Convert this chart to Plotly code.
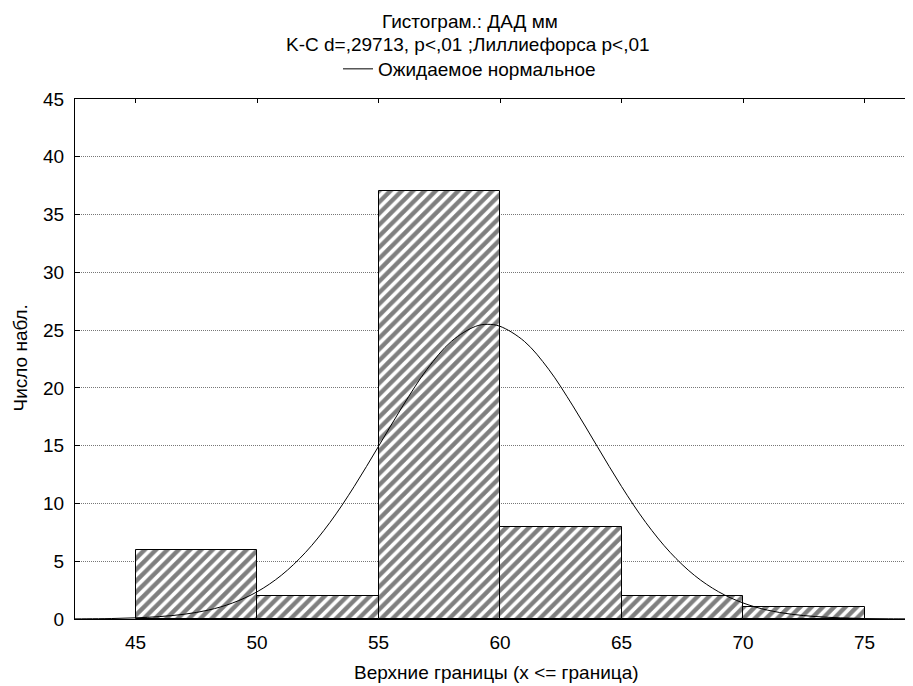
import plotly.graph_objects as go

# Histogram data: upper bin limits and counts
bin_upper = [50, 55, 60, 65, 70, 75]
bin_width = 5
counts = [6, 2, 37, 8, 2, 1]

# Expected normal curve
curve_x = [42.5, 43, 44, 45, 46, 47, 48, 49, 50, 51, 52, 53, 54, 55, 56, 57, 58, 59, 59.5,
           60, 61, 62, 63, 64, 65, 66, 67, 68, 69, 70, 71, 72, 73, 74, 75, 76, 77]
curve_y = [0.01, 0.02, 0.04, 0.10, 0.21, 0.41, 0.77, 1.39, 2.35, 3.78, 5.77, 8.35, 11.47,
           14.94, 18.44, 21.62, 24.03, 25.33, 25.5, 25.33, 24.03, 21.62, 18.44, 14.94, 11.47,
           8.35, 5.77, 3.78, 2.35, 1.39, 0.77, 0.41, 0.21, 0.10, 0.04, 0.02, 0.01]

x_ticks = [45, 50, 55, 60, 65, 70, 75]
y_ticks = [0, 5, 10, 15, 20, 25, 30, 35, 40, 45]

title_line1 = "Гистограм.: ДАД мм"
title_line2 = "K-C d=,29713, p<,01 ;Лиллиефорса p<,01"
legend_name = "Ожидаемое нормальное"
x_title = "Верхние границы (x <= граница)"
y_title = "Число набл."

FONT = "Arial, Liberation Sans, sans-serif"
FS = 19

# page has an 8px body margin; figure is offset by it
OFF = 8
W, H = 905, 678
PL, PT, PB = 75, 99, 619          # plot area in page pixels
ml, mt = PL - OFF, PT - OFF
mb = H + OFF - PB
plot_w = W - ml
plot_h = PB - PT


def px_x(p):
    return (p - PL) / plot_w


def px_y(p):
    return (PB - p) / plot_h


centers = [u - bin_width / 2 for u in bin_upper]

fig = go.Figure()
fig.add_trace(go.Bar(
    x=centers, y=counts, width=[bin_width] * len(counts),
    marker=dict(color="white", line=dict(color="black", width=1),
                pattern=dict(shape="/", size=8, solidity=0.55,
                             fgcolor="black", bgcolor="white")),
    showlegend=False, xaxis="x", yaxis="y",
))
fig.add_trace(go.Scatter(
    x=curve_x, y=curve_y, mode="lines", line=dict(color="black", width=1, shape="spline"),
    name=legend_name, showlegend=True, xaxis="x", yaxis="y",
))
# invisible trace to activate top axis
fig.add_trace(go.Scatter(x=[45], y=[0], mode="markers", marker=dict(opacity=0),
                         showlegend=False, hoverinfo="skip", xaxis="x2", yaxis="y"))

px_per_unit = (864.5 - 135.5) / 30
xr = [45 - (135.5 - PL) / px_per_unit, 45 + (W + OFF - 135.5) / px_per_unit]

fig.update_layout(
    width=W, height=H,
    margin=dict(l=ml, r=0, t=mt, b=mb, pad=0),
    paper_bgcolor="white", plot_bgcolor="white",
    font=dict(family=FONT, size=FS, color="black"),
    bargap=0,
    xaxis=dict(range=xr, tickvals=x_ticks, ticks="", showline=True, linecolor="black",
               linewidth=1, showgrid=False, zeroline=False, ticklabelstandoff=6,
               tickfont=dict(size=FS)),
    xaxis2=dict(range=xr, overlaying="x", side="top", tickvals=x_ticks, ticks="inside",
                ticklen=4, tickcolor="black", showticklabels=False, showline=True,
                linecolor="black", linewidth=1, showgrid=False, zeroline=False),
    yaxis=dict(range=[0, 45], tickvals=y_ticks, ticks="inside", ticklen=5, tickcolor="black",
               showline=True, linecolor="black", linewidth=1, zeroline=False,
               showgrid=True, gridcolor="#777777", griddash="1px,1px", gridwidth=1,
               ticklabelstandoff=6, tickfont=dict(size=FS)),
    legend=dict(orientation="h", xref="container", yref="container",
                x=(338 - OFF) / W, y=1 - (69 - OFF) / H,
                xanchor="left", yanchor="middle", font=dict(size=FS),
                bgcolor="rgba(0,0,0,0)", borderwidth=0),
    annotations=[
        dict(text=title_line1, xref="paper", yref="paper", x=px_x(470),
             y=px_y(21), xanchor="center", yanchor="middle", showarrow=False,
             font=dict(size=FS)),
        dict(text=title_line2, xref="paper", yref="paper", x=px_x(468),
             y=px_y(45), xanchor="center", yanchor="middle", showarrow=False,
             font=dict(size=FS)),
        dict(text=x_title, xref="paper", yref="paper", x=px_x(496),
             y=px_y(672), xanchor="center", yanchor="middle", showarrow=False,
             font=dict(size=FS)),
        dict(text=y_title, xref="paper", yref="paper", x=px_x(19.5),
             y=px_y(358), xanchor="center", yanchor="middle", showarrow=False,
             textangle=-90, font=dict(size=FS)),
    ],
)

fig.write_html("out.html")
